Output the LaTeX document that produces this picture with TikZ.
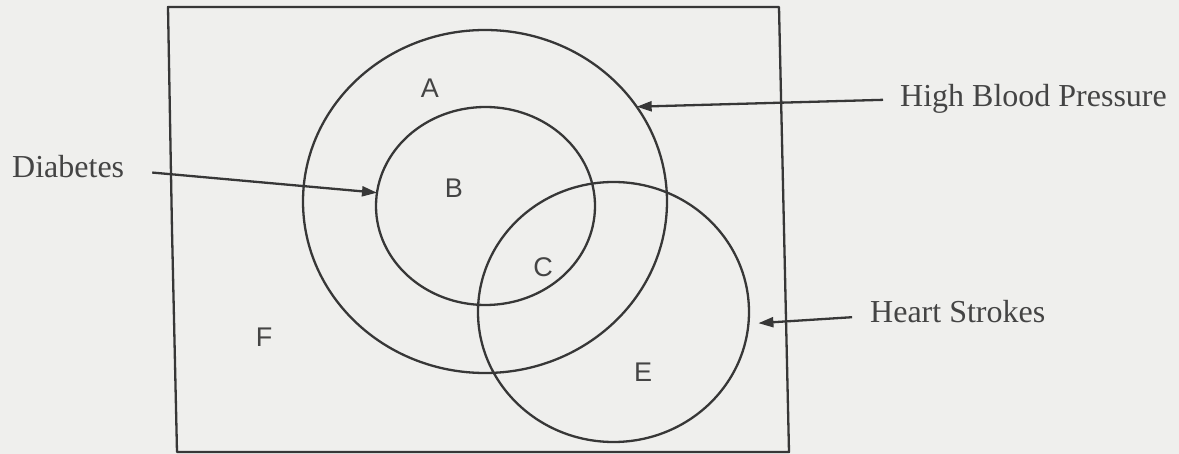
\documentclass[tikz,border=0pt]{standalone}
\usepackage{fontspec}
\setmainfont{Liberation Serif}
\newfontfamily\lsans{Liberation Sans}
\usetikzlibrary{shapes.geometric,arrows.meta}
\definecolor{paper}{RGB}{239,239,237}
\definecolor{ink}{RGB}{55,55,55}
\definecolor{txt}{RGB}{68,68,68}
\begin{document}
\begin{tikzpicture}[x=1pt,y=-1pt,
  setshape/.style={ellipse,draw=ink,line width=2.3pt,inner sep=0pt,outer sep=0pt},
  lbl/.style={text=txt,inner sep=0pt,font=\fontsize{32}{36}\selectfont},
  reg/.style={text=txt,inner sep=0pt,font=\lsans\fontsize{27}{30}\selectfont},
  arr/.style={draw=ink,line width=2.3pt,-{Triangle[length=15pt,width=10pt]}},
  frame/.style={draw=ink,line width=2.3pt,line join=round}]
\fill[paper] (0,0) rectangle (1179,454);
\useasboundingbox (0,0) rectangle (1179,454);
% universal set frame
\draw[frame] (168,7) -- (779,7) -- (789,452) -- (177,452) -- (172,230) -- cycle;
% sets
\node[setshape,minimum width=364pt,minimum height=343pt] (hbpset) at (485,201.5) {};
\node[setshape,minimum width=219pt,minimum height=198pt] (diabset) at (485.5,206) {};
\node[setshape,minimum width=271pt,minimum height=260pt] (heartset) at (613.5,312) {};
% region letters
\node[reg] (A) at (430,88) {A};
\node[reg] (B) at (454,188) {B};
\node[reg] (C) at (543,267) {C};
\node[reg] (E) at (643,372) {E};
\node[reg] (F) at (264,337) {F};
% labels
\node[lbl,anchor=base west] (diab) at (12,178) {Diabetes};
\node[lbl,anchor=base west] (hbp) at (900,107) {High Blood Pressure};
\node[lbl,anchor=base west] (heart) at (870,323) {Heart Strokes};
% arrows
\draw[arr,shorten <=28pt] ([yshift=-3pt]diab.east) -- (diabset.173);
\draw[arr,shorten <=17pt] (hbp.west) -- (hbpset.32);
\draw[arr,shorten <=18pt,shorten >=10pt] ([yshift=-4pt]heart.west) -- (heartset.-5);
\end{tikzpicture}
\end{document}
